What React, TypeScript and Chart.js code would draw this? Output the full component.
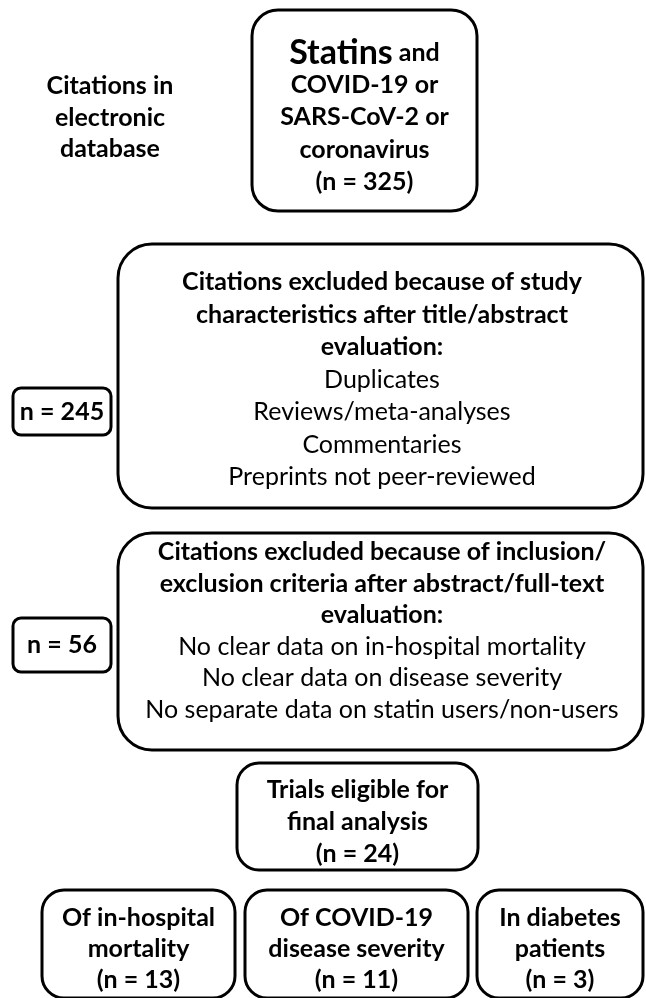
import React, { useEffect, useRef } from "react";
import { Chart, registerables } from "chart.js";

Chart.register(...registerables);

// ---------- data ----------
const searchKeyword = "Statins";
const searchTerms = ["and", "COVID-19 or", "SARS-CoV-2 or", "coronavirus"];
const sourceLabel = ["Citations in", "electronic", "database"];
const totalCitations = 325;
const excludedStudyCount = 245;
const excludedCriteriaCount = 56;
const eligibleTrialsCount = 24;
const studyExclusionTitle = ["Citations excluded because of study", "characteristics after title/abstract", "evaluation:"];
const studyExclusionReasons = ["Duplicates", "Reviews/meta-analyses", "Commentaries", "Preprints not peer-reviewed"];
const criteriaExclusionTitle = ["Citations excluded because of inclusion/", "exclusion criteria after abstract/full-text", "evaluation:"];
const criteriaExclusionReasons = ["No clear data on in-hospital mortality", "No clear data on disease severity", "No separate data on statin users/non-users"];
const eligibleLabel = ["Trials eligible for", "final analysis"];
const subgroupLabels = [["Of in-hospital", "mortality"], ["Of COVID-19", "disease severity"], ["In diabetes", "patients"]];
const subgroupCounts = [13, 11, 3];

// ---------- layout (chart units: x 0..646, y 0..998 top-down) ----------
const FONT = '"Lato", "Open Sans", sans-serif';
const BASE = 25;
const BIG = 34;

type Seg = { t: string; bold: boolean; size: number };
type Line = Seg[];
type Node = {
  rect?: [number, number, number, number];
  r?: number;
  cx: number;
  y0: number;
  lh: number;
  lines: Line[];
};

const B = (t: string): Line => [{ t, bold: true, size: BASE }];
const R = (t: string): Line => [{ t, bold: false, size: BASE }];
const nText = (n: number) => `(n = ${n})`;

const nodes: Node[] = [
  { cx: 110, y0: 86, lh: 31.5, lines: sourceLabel.map(B) },
  {
    rect: [252, 10, 477, 211], r: 26, cx: 364.5, y0: 53, lh: 32.2,
    lines: [
      [{ t: searchKeyword, bold: true, size: BIG }, { t: " " + searchTerms[0], bold: true, size: BASE }],
      ...searchTerms.slice(1).map(B),
      B(nText(totalCitations)),
    ],
  },
  {
    rect: [118, 244, 643, 508], r: 34, cx: 382, y0: 282, lh: 32.5,
    lines: [...studyExclusionTitle.map(B), ...studyExclusionReasons.map(R)],
  },
  { rect: [13, 388, 111, 435], r: 8, cx: 62, y0: 412, lh: 30, lines: [B(`n = ${excludedStudyCount}`)] },
  {
    rect: [118, 533, 643, 750], r: 34, cx: 382, y0: 552, lh: 31.6,
    lines: [...criteriaExclusionTitle.map(B), ...criteriaExclusionReasons.map(R)],
  },
  { rect: [13, 618, 111, 672], r: 8, cx: 62, y0: 645, lh: 30, lines: [B(`n = ${excludedCriteriaCount}`)] },
  {
    rect: [237, 763, 478, 870], r: 22, cx: 357.5, y0: 790, lh: 32,
    lines: [...eligibleLabel.map(B), B(nText(eligibleTrialsCount))],
  },
  ...[[42, 235], [245, 468], [477, 643]].map(([a, b], i) => ({
    rect: [a, 890, b, 998] as [number, number, number, number], r: 22, cx: (a + b) / 2, y0: 918, lh: 31,
    lines: [...subgroupLabels[i].map(B), B(nText(subgroupCounts[i]))],
  })),
];

const fontOf = (s: Seg) => `${s.bold ? "bold" : "normal"} ${s.size}px ${FONT}`;

const flowPlugin = {
  id: "flowchart",
  afterDraw(chart: any) {
    const ctx: CanvasRenderingContext2D = chart.ctx;
    const xs = chart.scales.x;
    const ys = chart.scales.y;
    const px = (v: number) => xs.getPixelForValue(v);
    const py = (v: number) => ys.getPixelForValue(v);
    ctx.save();
    ctx.fillStyle = "#ffffff";
    ctx.fillRect(0, 0, chart.width, chart.height);
    for (const n of nodes) {
      if (n.rect) {
        const [x0, y0, x1, y1] = n.rect;
        const X0 = px(x0), X1 = px(x1), Y0 = py(y0), Y1 = py(y1);
        ctx.beginPath();
        ctx.roundRect(X0, Y0, X1 - X0, Y1 - Y0, n.r || 0);
        ctx.lineWidth = 3;
        ctx.strokeStyle = "#000000";
        ctx.stroke();
      }
      ctx.fillStyle = "#000000";
      ctx.textBaseline = "middle";
      ctx.textAlign = "left";
      n.lines.forEach((line, i) => {
        let total = 0;
        const widths = line.map((s) => {
          ctx.font = fontOf(s);
          const w = ctx.measureText(s.t).width;
          total += w;
          return w;
        });
        let x = px(n.cx) - total / 2;
        const y = py(n.y0 + i * n.lh);
        line.forEach((s, k) => {
          ctx.font = fontOf(s);
          ctx.fillText(s.t, x, y);
          x += widths[k];
        });
      });
    }
    ctx.restore();
  },
};

export default function App() {
  const ref = useRef<HTMLCanvasElement | null>(null);
  useEffect(() => {
    if (!ref.current) return;
    const chart = new Chart(ref.current, {
      type: "scatter",
      data: { datasets: [{ data: [], pointRadius: 0 }] },
      options: {
        responsive: false,
        animation: false,
        layout: { padding: 0 },
        plugins: { legend: { display: false }, tooltip: { enabled: false } },
        scales: {
          x: { type: "linear", min: 0, max: 646, display: false },
          y: { type: "linear", min: 0, max: 998, reverse: true, display: false },
        },
      },
      plugins: [flowPlugin],
    });
    return () => chart.destroy();
  }, []);
  return (
    <div style={{ position: "absolute", left: 0, top: 0, width: 646, height: 998 }}>
      <canvas ref={ref} width={646} height={998} style={{ display: "block" }} />
    </div>
  );
}
